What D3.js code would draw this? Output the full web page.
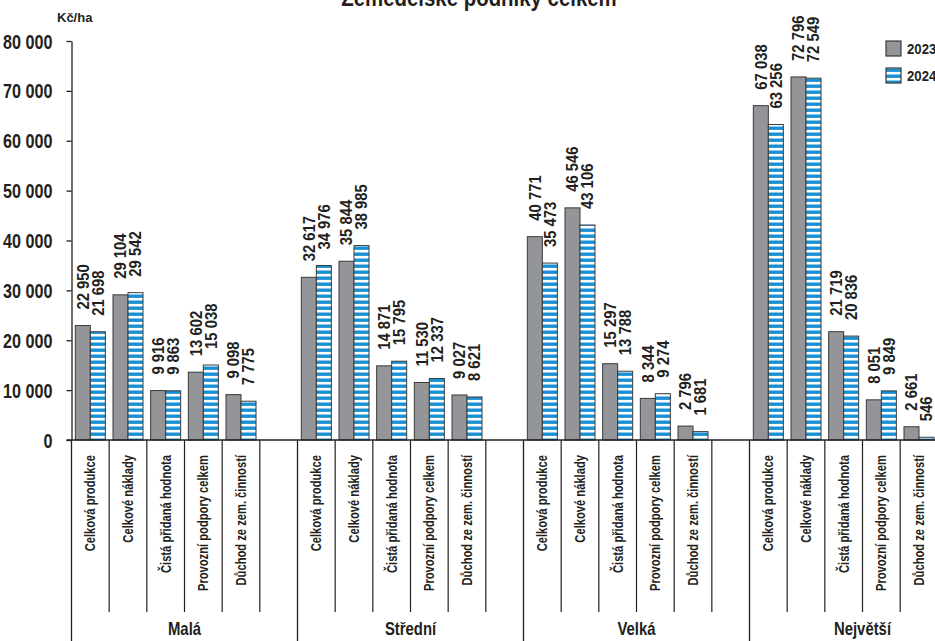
<!DOCTYPE html>
<html><head><meta charset="utf-8">
<script src="https://cdn.jsdelivr.net/npm/d3@7"></script>
<style>body{margin:0;background:#fff}svg{display:block}</style>
</head><body>
<svg id="c" width="935" height="641"></svg>
<script>
const titleText = "Zemědělské podniky celkem";
const unitLabel = "Kč/ha";
const groups = ["Malá", "Střední", "Velká", "Největší"];
const categories = ["Celková produkce", "Celkové náklady", "Čistá přidaná hodnota", "Provozní podpory celkem", "Důchod ze zem. činností"];
const years = ["2023", "2024"];
const values2023 = [
  [22950, 29104, 9916, 13602, 9098],
  [32617, 35844, 14871, 11530, 9027],
  [40771, 46546, 15297, 8344, 2796],
  [67038, 72796, 21719, 8051, 2661]
];
const values2024 = [
  [21698, 29542, 9863, 15038, 7775],
  [34976, 38985, 15795, 12337, 8621],
  [35473, 43106, 13788, 9274, 1681],
  [63256, 72549, 20836, 9849, 546]
];
const yTicks = [0, 10000, 20000, 30000, 40000, 50000, 60000, 70000, 80000];

const FONT = "'Liberation Sans Narrow', 'Arial Narrow', sans-serif";
const GRAY = "#939598", BLUE = "#1a90d4", INK = "#231f20";
const svg = d3.select("#c");
const defs = svg.append("defs");
const pat = defs.append("pattern").attr("id", "stripes").attr("patternUnits", "userSpaceOnUse")
  .attr("width", 10).attr("height", 6);
pat.append("rect").attr("width", 10).attr("height", 6).attr("fill", "#fff");
pat.append("rect").attr("y", 0.5).attr("width", 10).attr("height", 3.4).attr("fill", BLUE);

const x0 = 71.5, y0 = 440, yTop = 41;
const y = d3.scaleLinear().domain([0, 80000]).range([y0, yTop]);
const xGroup = d3.scaleBand().domain(groups).range([x0, x0 + 4 * 226]);
const xCat = d3.scaleBand().domain([...categories, "_gap"]).range([0, xGroup.bandwidth()]);
const xYear = d3.scaleBand().domain(years).range([0, xCat.bandwidth()]).paddingInner(0).paddingOuter(0.255);
const fmt = v => d3.format(",")(v).replace(/,/g, " ");

const rows = [];
groups.forEach((g, gi) => categories.forEach((c, ci) => {
  rows.push({ g, c, year: "2023", v: values2023[gi][ci] });
  rows.push({ g, c, year: "2024", v: values2024[gi][ci] });
}));
const bx = d => xGroup(d.g) + xCat(d.c) + xYear(d.year);

// title (cut at the top edge, as in the reference)
svg.append("text").attr("transform", "translate(479,6) scale(0.85,1)").attr("text-anchor", "middle")
  .attr("font-family", FONT).attr("font-weight", "bold").attr("font-size", 24)
  .attr("fill", INK).text(titleText);
svg.append("text").attr("x", 57).attr("y", 22).attr("font-family", FONT)
  .attr("font-weight", "bold").attr("font-size", 13).attr("fill", INK).text(unitLabel);

// bars
svg.append("g").selectAll("rect").data(rows).join("rect")
  .attr("x", bx).attr("y", d => y(d.v)).attr("width", xYear.bandwidth())
  .attr("height", d => y0 - y(d.v))
  .attr("fill", d => d.year === "2023" ? GRAY : "url(#stripes)")
  .attr("stroke", "#3a3a3a").attr("stroke-width", 1);

// value labels
svg.append("g").selectAll("text").data(rows).join("text")
  .attr("transform", d => `translate(${bx(d) + xYear.bandwidth() / 2},${y(d.v) - 16}) rotate(-90) scale(0.9,1)`)
  .attr("dy", "0.36em").attr("font-family", FONT).attr("font-weight", "bold")
  .attr("font-size", 16.5).attr("fill", INK).text(d => fmt(d.v));

// y axis
const ax = svg.append("g").attr("transform", `translate(${x0},0)`)
  .call(d3.axisLeft(y).tickValues(yTicks).tickSize(5).tickSizeOuter(0).tickFormat(fmt));
ax.select(".domain").attr("stroke", INK).attr("stroke-width", 1.3);
ax.selectAll(".tick line").attr("stroke", INK).attr("stroke-width", 1.3);
ax.selectAll(".tick text").attr("x", 0).attr("transform", "translate(-19,0) scale(0.83,1)")
  .attr("font-family", FONT).attr("font-weight", "bold").attr("font-size", 19.5).attr("fill", INK)
  .attr("dy", "0.36em");

// x axis baseline
svg.append("line").attr("x1", x0 - 5).attr("x2", x0 + 4 * 226).attr("y1", y0).attr("y2", y0)
  .attr("stroke", INK).attr("stroke-width", 1.3);

// separators
const slotEdges = [];
groups.forEach(g => [...categories, "_gap"].forEach((c, ci) => {
  if (ci > 0) slotEdges.push(xGroup(g) + xCat(c));
}));
svg.append("g").selectAll("line").data(slotEdges).join("line")
  .attr("x1", d => d).attr("x2", d => d).attr("y1", y0).attr("y2", 612)
  .attr("stroke", INK).attr("stroke-width", 1.2);
svg.append("g").selectAll("line").data(groups).join("line")
  .attr("x1", d => xGroup(d)).attr("x2", d => xGroup(d)).attr("y1", y0).attr("y2", 641)
  .attr("stroke", INK).attr("stroke-width", 1.3);

// category labels
const catRows = [];
groups.forEach(g => categories.forEach(c => catRows.push({ g, c })));
svg.append("g").selectAll("text").data(catRows).join("text")
  .attr("transform", d => `translate(${xGroup(d.g) + xCat(d.c) + xCat.bandwidth() / 2},455) rotate(-90) scale(0.8,1)`)
  .attr("dy", "0.36em").attr("text-anchor", "end").attr("font-family", FONT)
  .attr("font-weight", "bold").attr("font-size", 14).attr("fill", INK).text(d => d.c);

// group labels
svg.append("g").selectAll("text").data(groups).join("text")
  .attr("transform", d => `translate(${xGroup(d) + xGroup.bandwidth() / 2},635) scale(0.85,1)`)
  .attr("text-anchor", "middle").attr("font-family", FONT).attr("font-weight", "bold")
  .attr("font-size", 17.5).attr("fill", INK).text(d => d);

// legend
const leg = svg.append("g").selectAll("g").data(years).join("g")
  .attr("transform", (d, i) => `translate(886,${41 + i * 27})`);
leg.append("rect").attr("width", 15).attr("height", 15)
  .attr("fill", d => d === "2023" ? GRAY : "url(#stripes)").attr("stroke", "#3a3a3a").attr("stroke-width", 1.2);
leg.append("text").attr("transform", "translate(21,7.5) scale(0.94,1)").attr("dy", "0.36em")
  .attr("font-family", FONT).attr("font-weight", "bold").attr("font-size", 14).attr("fill", INK).text(d => d);
</script>
</body></html>
